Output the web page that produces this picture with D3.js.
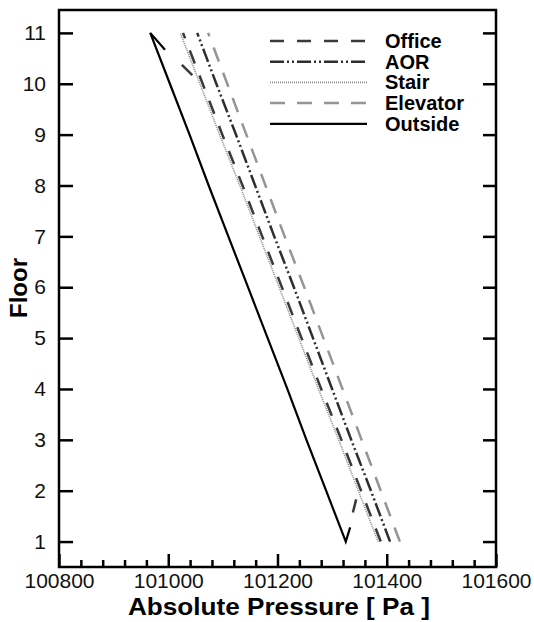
<!DOCTYPE html>
<html>
<head>
<meta charset="utf-8">
<script src="https://cdn.jsdelivr.net/npm/d3@7"></script>
<style>
  body { margin: 0; background: #fff; }
  text { font-family: "Liberation Sans", Arial, sans-serif; }
</style>
</head>
<body>
<div id="chart"></div>
<script>
// floors and pressure readings [Pa]
const floors = [1, 2, 3, 4, 5, 6, 7, 8, 9, 10, 11];
const office   = [101389, 101353, 101317, 101280, 101244, 101208, 101172, 101136, 101099, 101063, 101027];
const aor      = [101406, 101371, 101335, 101300, 101265, 101230, 101194, 101159, 101124, 101088, 101053];
const stair    = [101384, 101348, 101312, 101275, 101239, 101203, 101167, 101131, 101094, 101058, 101022];
const elevator = [101424, 101389, 101354, 101319, 101284, 101249, 101213, 101178, 101143, 101108, 101073];
const outside  = [101325, 101289, 101253, 101218, 101182, 101146, 101110, 101074, 101039, 101003, 100967];

// small stray segments at the ends of some curves [floor, pressure]
const outsideBottomKink = [[1.28, 101333], [1, 101325]];
const outsideTopKink = [[11, 100967], [10.67, 100994]];
const officeTopKink = [[10.37, 101025], [10.17, 101044]];
const officeBottomKink = [[1.57, 101338], [1.83, 101344]];

const xTicks = [100800, 101000, 101200, 101400, 101600];
const yTicks = [1, 2, 3, 4, 5, 6, 7, 8, 9, 10, 11];
const seriesNames = ["Office", "AOR", "Stair", "Elevator", "Outside"];

let width = 534;
let height = 622;
let mLeft = 59, mRight = 496, mTop = 10, mBottom = 567;

let svg = d3.select("#chart").append("svg")
    .attr("width", width).attr("height", height);

let xscale = d3.scaleLinear().domain([100800, 101600]).range([mLeft, mRight]);
let yscale = d3.scaleLinear().domain([0.5, 11.45]).range([mBottom, mTop]);

let styles = {
    Office:   {stroke: "#3a3a3a", width: 2.5, dash: "14,13"},
    AOR:      {stroke: "#2e2e2e", width: 2.5, dash: "14,3,2,3,2,3"},
    Stair:    {stroke: "#8a8a8a", width: 1.6, dash: "1,1"},
    Elevator: {stroke: "#959595", width: 2.5, dash: "15,12"},
    Outside:  {stroke: "#000", width: 2.2, dash: null}
};

let line = d3.line().x(d => xscale(d[1])).y(d => yscale(d[0]));

let series = {
    Office: floors.map((f, i) => [f, office[i]]),
    AOR: floors.map((f, i) => [f, aor[i]]),
    Stair: floors.map((f, i) => [f, stair[i]]),
    Elevator: floors.map((f, i) => [f, elevator[i]]),
    Outside: outsideBottomKink.concat(floors.map((f, i) => [f, outside[i]]), outsideTopKink.slice(1))
};

let plot = svg.append("g");

["Elevator", "AOR", "Stair", "Office", "Outside"].forEach(name => {
    let s = styles[name];
    plot.append("path")
        .attr("d", line(series[name]))
        .attr("fill", "none")
        .attr("stroke", s.stroke)
        .attr("stroke-width", s.width)
        .attr("stroke-dasharray", s.dash);
});

[officeTopKink, officeBottomKink].forEach(k => {
    plot.append("path")
        .attr("d", line(k))
        .attr("fill", "none")
        .attr("stroke", styles.Office.stroke)
        .attr("stroke-width", 2.5);
});

// axes
let xAxis = d3.axisBottom(xscale).tickValues(xTicks).tickSize(-13).tickPadding(6).tickFormat(d3.format("d"));
svg.append("g").attr("transform", "translate(0," + mBottom + ")").call(xAxis);

let minor = d3.range(100840, 101600, 40).filter(v => v % 200 !== 0);
svg.append("g").attr("transform", "translate(0," + mBottom + ")")
    .call(d3.axisBottom(xscale).tickValues(minor).tickSize(-7).tickFormat(""));

let yAxis = d3.axisLeft(yscale).tickValues(yTicks).tickSize(-14).tickPadding(13);
svg.append("g").attr("transform", "translate(" + mLeft + ",0)").call(yAxis);

svg.append("g").attr("transform", "translate(" + mRight + ",0)")
    .call(d3.axisRight(yscale).tickValues(yTicks).tickSize(-13).tickFormat(""));

svg.selectAll(".domain").remove();
svg.selectAll(".tick line").attr("stroke", "#000").attr("stroke-width", 2.5);
svg.selectAll(".tick text")
    .attr("fill", "#111")
    .style("font-size", "21px")
    .style("font-family", "'Liberation Sans', Arial, sans-serif");

svg.append("rect")
    .attr("x", mLeft).attr("y", mTop)
    .attr("width", mRight - mLeft).attr("height", mBottom - mTop)
    .attr("fill", "none").attr("stroke", "#000").attr("stroke-width", 2.5);

// axis titles
svg.append("text")
    .attr("x", 279).attr("y", 615)
    .attr("text-anchor", "middle")
    .attr("textLength", 302).attr("lengthAdjust", "spacingAndGlyphs")
    .style("font-size", "23px").style("font-weight", "bold")
    .text("Absolute Pressure [ Pa ]");

svg.append("text")
    .attr("transform", "translate(27,288) rotate(-90)")
    .attr("text-anchor", "middle")
    .style("font-size", "24px").style("font-weight", "bold")
    .text("Floor");

// legend
let legend = svg.append("g");
seriesNames.forEach((name, i) => {
    let y = 41 + i * 20.7;
    let s = styles[name];
    legend.append("line")
        .attr("x1", 270).attr("x2", 367).attr("y1", y).attr("y2", y)
        .attr("stroke", s.stroke).attr("stroke-width", s.width)
        .attr("stroke-dasharray", s.dash);
    legend.append("text")
        .attr("x", 385).attr("y", y + 7)
        .style("font-size", "20px").style("font-weight", "bold")
        .text(name);
});
</script>
</body>
</html>
